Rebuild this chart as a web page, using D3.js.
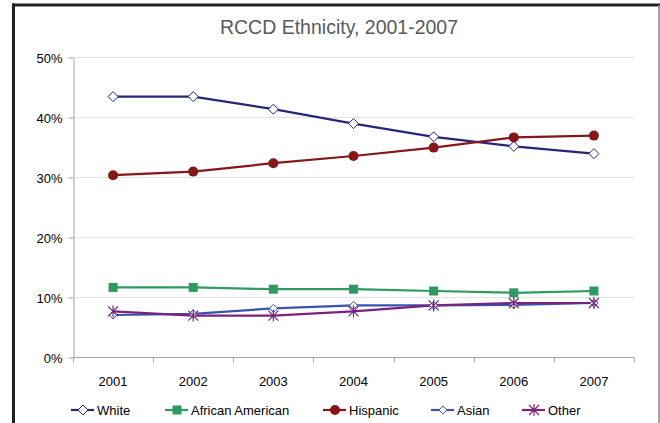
<!DOCTYPE html>
<html><head><meta charset="utf-8">
<script src="https://cdn.jsdelivr.net/npm/d3@7"></script>
<style>body{margin:0;background:#fff}svg{display:block;font-family:"Liberation Sans",Arial,sans-serif}</style>
</head><body>
<svg id="c" width="660" height="423"></svg>
<script>
const years = ["2001","2002","2003","2004","2005","2006","2007"];
const white = [43.4, 43.4, 41.3, 38.9, 36.7, 35.1, 33.9];
const africanAmerican = [11.6, 11.6, 11.3, 11.3, 11.0, 10.7, 11.0];
const hispanic = [30.3, 30.9, 32.3, 33.5, 34.9, 36.6, 36.9];
const asian = [7.0, 7.2, 8.1, 8.6, 8.6, 8.7, 9.0];
const other = [7.6, 6.9, 6.9, 7.6, 8.6, 9.0, 9.0];
const yTicks = [0, 10, 20, 30, 40, 50];
const seriesNames = ["White","African American","Hispanic","Asian","Other"];

const series = [
  {name:"White", values:white, color:"#262678", marker:"diamond"},
  {name:"African American", values:africanAmerican, color:"#2e9a60", marker:"square"},
  {name:"Hispanic", values:hispanic, color:"#861719", marker:"circle"},
  {name:"Asian", values:asian, color:"#3a52b0", marker:"diamondSmall"},
  {name:"Other", values:other, color:"#7a237d", marker:"star"}
];

const svg = d3.select("#c");
// frame
svg.append("rect").attr("x",13.5).attr("y",5).attr("width",645).attr("height",430)
  .attr("fill","#fff").attr("stroke","none");
svg.append("line").attr("x1",13.5).attr("x2",13.5).attr("y1",3.5).attr("y2",423).attr("stroke","#222").attr("stroke-width",3);
svg.append("line").attr("x1",12).attr("x2",660).attr("y1",5).attr("y2",5).attr("stroke","#222").attr("stroke-width",3);
svg.append("line").attr("x1",659).attr("x2",659).attr("y1",5).attr("y2",423).attr("stroke","#888").attr("stroke-width",1.5);

svg.append("text").attr("x",339).attr("y",34).attr("text-anchor","middle")
  .attr("font-size",19.5).attr("fill","#5a5a5a").text("RCCD Ethnicity, 2001-2007");

const x = d3.scaleBand().domain(years).range([73,634]);
const y = d3.scaleLinear().domain([0,50]).range([357,57]);

const g = svg.append("g");
// gridlines
g.selectAll(".grid").data(yTicks.filter(d=>d>0)).enter().append("line")
  .attr("x1",73).attr("x2",634).attr("y1",d=>y(d)+0.5).attr("y2",d=>y(d)+0.5)
  .attr("stroke","#e3e3e3").attr("stroke-width",1);

const yAxis = d3.axisLeft(y).tickValues(yTicks).tickFormat(d=>d+"%").tickSize(5).tickSizeOuter(0);
const ya = svg.append("g").attr("transform","translate(73.5,0.5)").call(yAxis);
ya.select(".domain").attr("stroke","#a6a6a6");
ya.selectAll(".tick line").attr("stroke","#a6a6a6");
ya.selectAll("text").attr("font-size",13).attr("fill","#000").attr("x",-11).attr("dy","0.36em")
  .attr("font-family","Liberation Sans, Arial, sans-serif");

const xa = svg.append("g").attr("transform","translate(0,357.5)");
xa.append("line").attr("x1",73).attr("x2",634).attr("stroke","#a6a6a6");
const bounds = years.map(d=>x(d)).concat([x.range()[1]]);
xa.selectAll(".xt").data(bounds).enter().append("line")
  .attr("x1",d=>Math.round(d)+0.5).attr("x2",d=>Math.round(d)+0.5).attr("y1",0).attr("y2",5).attr("stroke","#a6a6a6");
xa.selectAll(".xl").data(years).enter().append("text")
  .attr("x",d=>x(d)+x.bandwidth()/2).attr("y",28).attr("text-anchor","middle")
  .attr("font-size",13).attr("fill","#000").text(d=>d);

function drawMarker(sel, type, color){
  if(type==="diamond"){
    sel.append("path").attr("d","M0,-5L5,0L0,5L-5,0Z").attr("fill","#fff").attr("stroke",color).attr("stroke-width",1);
  } else if(type==="diamondSmall"){
    sel.append("path").attr("d","M0,-4L4,0L0,4L-4,0Z").attr("fill","#fff").attr("stroke",color).attr("stroke-width",1);
  } else if(type==="square"){
    sel.append("rect").attr("x",-4.5).attr("y",-4.5).attr("width",9).attr("height",9).attr("fill",color);
  } else if(type==="circle"){
    sel.append("circle").attr("r",5).attr("fill",color);
  } else if(type==="star"){
    sel.append("path").attr("d","M-5,-5L5,5M-5,5L5,-5M0,-6L0,6").attr("stroke",color).attr("stroke-width",1.2).attr("fill","none");
  }
}

const line = d3.line().x((d,i)=>x(years[i])+x.bandwidth()/2).y(d=>y(d));
series.forEach(s=>{
  g.append("path").datum(s.values).attr("d",line).attr("fill","none")
    .attr("stroke",s.color).attr("stroke-width",2.2);
});
series.forEach(s=>{
  s.values.forEach((v,i)=>{
    const m = g.append("g").attr("transform",`translate(${x(years[i])+x.bandwidth()/2},${y(v)})`);
    drawMarker(m, s.marker, s.color);
  });
});

// legend
const legendX = [71, 165, 323, 431, 522];
const lg = svg.append("g");
series.forEach((s,i)=>{
  const it = lg.append("g").attr("transform",`translate(${legendX[i]},410)`);
  it.append("line").attr("x1",0).attr("x2",23).attr("y1",0).attr("y2",0).attr("stroke",s.color).attr("stroke-width",2.2);
  const m = it.append("g").attr("transform","translate(12,0)");
  drawMarker(m, s.marker, s.color);
  it.append("text").attr("x",26).attr("y",5).attr("font-size",13).attr("fill","#000").text(seriesNames[i]);
});
</script>
</body></html>
